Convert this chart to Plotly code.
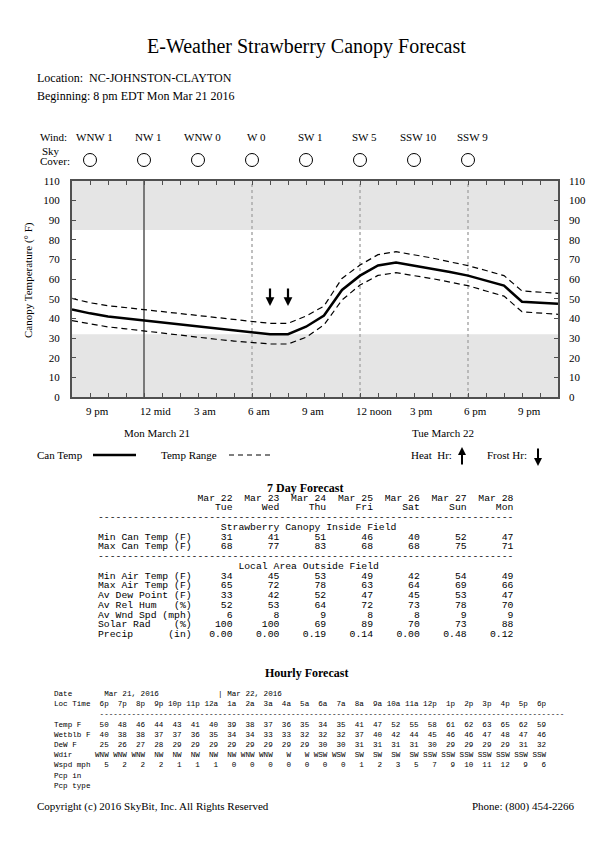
import plotly.graph_objects as go
import pandas as pd

# ---------------- data ----------------
hours = pd.date_range("2016-03-21 20:00", "2016-03-22 23:00", freq="h")
can_temp = [44.6, 42.6, 41.0, 40.0, 39.0, 38.0, 37.0, 36.0, 35.0, 34.1, 33.3, 32.0, 32.0, 35.8,
            41.5, 54.5, 61.8, 67.0, 68.5, 67.0, 65.5, 63.7, 61.8, 59.2, 56.7, 48.5, 48.0, 47.5]
range_hi = [50.2, 48.0, 46.5, 45.5, 44.6, 43.5, 42.4, 41.3, 40.3, 39.3, 38.4, 37.5, 37.5, 41.2,
            46.3, 60.4, 67.2, 72.5, 74.0, 72.5, 70.8, 68.8, 66.9, 64.4, 61.8, 54.0, 53.3, 52.8]
range_lo = [38.9, 37.2, 35.7, 34.7, 33.6, 32.5, 31.4, 30.4, 29.4, 28.5, 27.7, 27.0, 27.0, 30.4,
            36.7, 49.4, 57.0, 61.9, 63.3, 61.9, 60.3, 58.5, 56.7, 54.0, 51.4, 43.4, 42.8, 42.1]
frost_limit = 32
heat_limit = 85
frost_hours = ["2016-03-22 07:00", "2016-03-22 08:00"]

wind_times = ["2016-03-21 21:00", "2016-03-22 00:00", "2016-03-22 03:00", "2016-03-22 06:00",
              "2016-03-22 09:00", "2016-03-22 12:00", "2016-03-22 15:00", "2016-03-22 18:00"]
wind_labels = ["WNW 1", "NW 1", "WNW 0", "W 0", "SW 1", "SW 5", "SSW 10", "SSW 9"]
sky_cover = ["clear"] * 8

tick_times = ["2016-03-21 21:00", "2016-03-22 00:00", "2016-03-22 03:00", "2016-03-22 06:00",
              "2016-03-22 09:00", "2016-03-22 12:00", "2016-03-22 15:00", "2016-03-22 18:00",
              "2016-03-22 21:00"]
tick_labels = ["9 pm", "12 mid", "3 am", "6 am", "9 am", "12 noon", "3 pm", "6 pm", "9 pm"]
midnight = "2016-03-22 00:00"
six_hour_marks = ["2016-03-22 06:00", "2016-03-22 12:00", "2016-03-22 18:00"]
day_labels = ["Mon March 21", "Tue March 22"]

# 7 day forecast
fc_dates = ["Mar 22", "Mar 23", "Mar 24", "Mar 25", "Mar 26", "Mar 27", "Mar 28"]
fc_days = ["Tue", "Wed", "Thu", "Fri", "Sat", "Sun", "Mon"]
min_can = [31, 41, 51, 46, 40, 52, 47]
max_can = [68, 77, 83, 68, 68, 75, 71]
min_air = [34, 45, 53, 49, 42, 54, 49]
max_air = [65, 72, 78, 63, 64, 69, 66]
av_dew = [33, 42, 52, 47, 45, 53, 47]
av_rh = [52, 53, 64, 72, 73, 78, 70]
av_wnd = [6, 8, 9, 8, 8, 9, 9]
solar = [100, 100, 69, 89, 70, 73, 88]
precip = [0.00, 0.00, 0.19, 0.14, 0.00, 0.48, 0.12]

# hourly forecast
hr_labels = ["6p", "7p", "8p", "9p", "10p", "11p", "12a", "1a", "2a", "3a", "4a", "5a", "6a",
             "7a", "8a", "9a", "10a", "11a", "12p", "1p", "2p", "3p", "4p", "5p", "6p"]
hr_temp = [50, 48, 46, 44, 43, 41, 40, 39, 38, 37, 36, 35, 34, 35, 41, 47, 52, 55, 58, 61, 62, 63, 65, 62, 59]
hr_wetblb = [40, 38, 38, 37, 37, 36, 35, 34, 34, 33, 33, 32, 32, 32, 37, 40, 42, 44, 45, 46, 46, 47, 48, 47, 46]
hr_dew = [25, 26, 27, 28, 29, 29, 29, 29, 29, 29, 29, 29, 30, 30, 31, 31, 31, 31, 30, 29, 29, 29, 29, 31, 32]
hr_wdir = ["WNW", "WNW", "WNW", "NW", "NW", "NW", "NW", "NW", "WNW", "WNW", "W", "W", "WSW", "WSW",
           "SW", "SW", "SW", "SW", "SSW", "SSW", "SSW", "SSW", "SSW", "SSW", "SSW"]
hr_wspd = [5, 2, 2, 2, 1, 1, 1, 0, 0, 0, 0, 0, 0, 0, 1, 2, 3, 5, 7, 9, 10, 11, 12, 9, 6]

# ---------------- layout helpers ----------------
W_FIG, H_FIG = 612, 864
L, R, T, B = 72, 558, 181, 397
SERIF = "Liberation Serif"
MONO = "Liberation Mono"
AX = "#505050"


def px(x):
    return (x - L) / (R - L)


def py(y):
    return (B - y) / (B - T)


def yval(pix):
    return (B - pix) / (B - T) * 110


def ann(text, x, y, size=11, anchor="left", family=SERIF, bold=False, **kw):
    if bold:
        text = "<b>" + text + "</b>"
    d = dict(xref="paper", yref="paper", x=px(x), y=py(y), text=text, showarrow=False,
             xanchor=anchor, yanchor="middle", borderpad=0,
             font=dict(family=family, size=size, color="black"))
    d.update(kw)
    return d


def mono(s):
    return s.replace(" ", "\u00a0")


fig = go.Figure()

fig.add_trace(go.Scatter(x=hours, y=range_hi, mode="lines", hoverinfo="skip",
                         line=dict(color="black", width=1.2, dash="6px,4px")))
fig.add_trace(go.Scatter(x=hours, y=range_lo, mode="lines", hoverinfo="skip",
                         line=dict(color="black", width=1.2, dash="6px,4px")))
fig.add_trace(go.Scatter(x=hours, y=can_temp, mode="lines",
                         line=dict(color="black", width=2.5)))
fig.add_trace(go.Scatter(x=hours, y=can_temp, mode="lines", yaxis="y2", opacity=0,
                         hoverinfo="skip", line=dict(width=0)))

shapes = [
    dict(type="rect", xref="paper", yref="y", x0=0, x1=1, y0=0, y1=frost_limit,
         fillcolor="#e5e5e5", line=dict(width=0), layer="below"),
    dict(type="rect", xref="paper", yref="y", x0=0, x1=1, y0=heat_limit, y1=110,
         fillcolor="#e5e5e5", line=dict(width=0), layer="below"),
    dict(type="line", xref="x", yref="paper", x0=midnight, x1=midnight, y0=0, y1=1,
         line=dict(color="#555555", width=1.5), layer="below"),
]
for t in six_hour_marks:
    shapes.append(dict(type="line", xref="x", yref="paper", x0=t, x1=t, y0=0, y1=1,
                       line=dict(color="#aaaaaa", width=1.5, dash="3px,3px"), layer="below"))
# sky cover symbols (clear = open circle)
for t, sc in zip(wind_times, sky_cover):
    shapes.append(dict(type="circle", xref="x", yref="paper", xsizemode="pixel",
                       ysizemode="pixel", xanchor=t, yanchor=py(160), x0=-6.5, x1=6.5,
                       y0=-6.5, y1=6.5, line=dict(color="black", width=1),
                       fillcolor="white" if sc == "clear" else "black"))
# legend line samples
shapes.append(dict(type="line", xref="paper", yref="paper", x0=px(93), x1=px(136), y0=py(455),
                   y1=py(455), line=dict(color="black", width=2.5)))
shapes.append(dict(type="line", xref="paper", yref="paper", x0=px(229), x1=px(270), y0=py(455),
                   y1=py(455), line=dict(color="black", width=1.2, dash="5px,4px")))

annotations = []
annotations.append(ann("E-Weather Strawberry Canopy Forecast", 306, 47, size=20, anchor="center"))
annotations.append(ann("Location:  NC-JOHNSTON-CLAYTON", 36, 78, size=12))
annotations.append(ann("Beginning: 8 pm EDT Mon Mar 21 2016", 36, 96, size=12))
annotations.append(ann("Wind:", 39, 137, size=11))
annotations.append(ann("Sky", 41, 151, size=11))
annotations.append(ann("Cover:", 39, 161, size=11))
for t, w in zip(wind_times, wind_labels):
    annotations.append(dict(xref="x", yref="paper", x=t, y=py(137), text=w, showarrow=False,
                            xanchor="center", yanchor="middle", xshift=4, borderpad=0,
                            font=dict(family=SERIF, size=11, color="black")))
for t, lab in zip(tick_times, tick_labels):
    annotations.append(dict(xref="x", yref="paper", x=t, y=py(411), text=lab, showarrow=False,
                            xanchor="left", yanchor="middle", xshift=-5, borderpad=0,
                            font=dict(family=SERIF, size=11, color="black")))
annotations.append(ann(day_labels[0], 157, 433, anchor="center"))
annotations.append(ann(day_labels[1], 443, 433, anchor="center"))
annotations.append(ann("Canopy Temperature (° F)", 28, 280, anchor="center", textangle=-90))

# frost arrows
for t in frost_hours:
    annotations.append(dict(xref="x", yref="y", x=t, y=yval(306), text="", showarrow=True,
                            ax=0, ay=-19, arrowhead=2, arrowsize=0.8, arrowwidth=2.2,
                            arrowcolor="black"))

# legend
annotations.append(ann("Can Temp", 36, 455))
annotations.append(ann("Temp Range", 160, 455))
annotations.append(ann("Heat  Hr:", 410, 455))
annotations.append(ann("Frost Hr:", 486, 455))
annotations.append(dict(xref="paper", yref="paper", x=px(462), y=py(447), text="", showarrow=True,
                        ax=0, ay=19, arrowhead=2, arrowsize=0.8, arrowwidth=2, arrowcolor="black"))
annotations.append(dict(xref="paper", yref="paper", x=px(538), y=py(466), text="", showarrow=True,
                        ax=0, ay=-19, arrowhead=2, arrowsize=0.8, arrowwidth=2, arrowcolor="black"))

# 7 day forecast table
annotations.append(ann("7 Day Forecast", 305, 488, size=12, anchor="center", bold=True))


def fc_row(label, vals, fmt="{}"):
    s = label.ljust(17) + fmt.format(vals[0]).rjust(6)
    for v in vals[1:]:
        s += fmt.format(v).rjust(8)
    return s


fc_lines = [
    fc_row("", fc_dates),
    fc_row("", fc_days),
    "-" * 71,
    " " * 21 + "Strawberry Canopy Inside Field",
    fc_row("Min Can Temp (F)", min_can),
    fc_row("Max Can Temp (F)", max_can),
    "-" * 71,
    " " * 24 + "Local Area Outside Field",
    fc_row("Min Air Temp (F)", min_air),
    fc_row("Max Air Temp (F)", max_air),
    fc_row("Av Dew Point (F)", av_dew),
    fc_row("Av Rel Hum   (%)", av_rh),
    fc_row("Av Wnd Spd (mph)", av_wnd),
    fc_row("Solar Rad    (%)", solar),
    fc_row("Precip      (in)", precip, "{:.2f}"),
]
for i, line in enumerate(fc_lines):
    annotations.append(ann(mono(line), 97, 498 + i * 9.75, size=9.75, family=MONO))

# hourly forecast table
annotations.append(ann("Hourly Forecast", 306, 673, size=12, anchor="center", bold=True))


def hr_row(label, vals):
    return label.ljust(8) + "".join(str(v).rjust(4) for v in vals)


date_row = "Date".ljust(11) + "Mar 21, 2016"
date_row = date_row.ljust(36) + "| Mar 22, 2016"
hr_lines = [
    date_row,
    hr_row("Loc Time", hr_labels),
    " " * 10 + "-" * 102,
    hr_row("Temp F", hr_temp),
    hr_row("Wetblb F", hr_wetblb),
    hr_row("DeW F", hr_dew),
    hr_row("Wdir", hr_wdir),
    hr_row("Wspd mph", hr_wspd),
    "Pcp in",
    "Pcp type",
]
for i, line in enumerate(hr_lines):
    annotations.append(ann(mono(line), 53, 694 + i * 10.2, size=7.6, family=MONO))

annotations.append(ann("Copyright (c) 2016 SkyBit, Inc. All Rights Reserved", 36, 806))
annotations.append(ann("Phone: (800) 454-2266", 576, 806, anchor="right"))

fig.update_layout(
    width=W_FIG, height=H_FIG, autosize=False,
    margin=dict(l=L, r=W_FIG - R, t=T, b=H_FIG - B, pad=0),
    paper_bgcolor="white", plot_bgcolor="white",
    showlegend=False,
    shapes=shapes, annotations=annotations,
    xaxis=dict(type="date", range=[hours[0], hours[-1]], tickmode="linear", tick0=hours[0],
               dtick=3600000, ticks="inside", ticklen=4, tickwidth=1, tickcolor=AX,
               showticklabels=False, showline=True, linecolor=AX, linewidth=2, mirror="ticks",
               showgrid=False, zeroline=False, fixedrange=True),
    yaxis=dict(range=[0, 110], tickmode="array", tickvals=list(range(0, 111, 10)),
               ticks="inside", ticklen=4, tickwidth=1, tickcolor=AX, showline=True,
               linecolor=AX, linewidth=2, mirror="ticks", showgrid=False, zeroline=False,
               tickfont=dict(family=SERIF, size=11, color="black"), ticklabelstandoff=8),
    yaxis2=dict(range=[0, 110], overlaying="y", side="right", tickmode="array",
                tickvals=list(range(0, 111, 10)), ticks="", showline=False, showgrid=False,
                zeroline=False, tickfont=dict(family=SERIF, size=11, color="black"),
                ticklabelstandoff=10),
)

fig.write_html("out.html", config={"displayModeBar": False},
               post_script="document.body.style.margin='0';")
